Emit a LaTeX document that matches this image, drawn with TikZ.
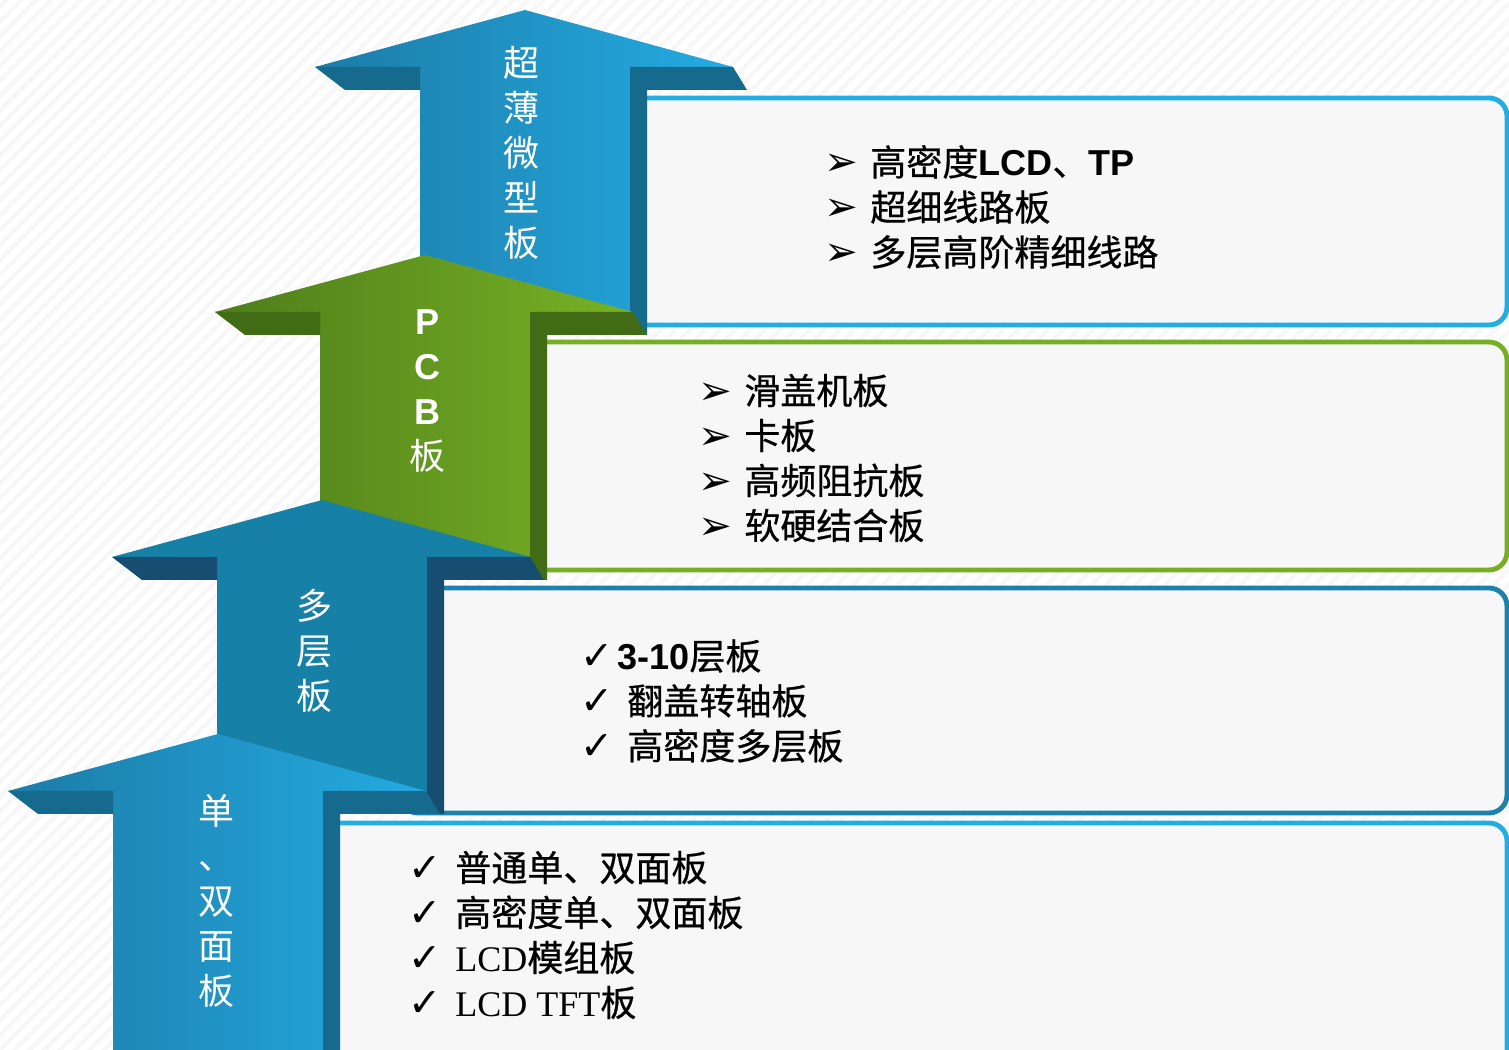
\documentclass[tikz,border=0pt]{standalone}
\usepackage{fontspec}
\setmainfont{Liberation Sans}
\newfontfamily\cjk{Noto Sans CJK SC}
\newfontfamily\cjkheavy[FakeBold=0.6]{Noto Sans CJK SC}
\newfontfamily\dingfont{DejaVu Sans}
\newfontfamily\latinsans{Liberation Sans}
\newfontfamily\latinserif{Liberation Serif}
\usetikzlibrary{patterns.meta}

\definecolor{skyface}{HTML}{24ABE2}
\definecolor{skyshade}{HTML}{1C7CA7}
\definecolor{skydark}{HTML}{156A8D}
\definecolor{leafface}{HTML}{78B223}
\definecolor{leafshade}{HTML}{4E7D1C}
\definecolor{leafdark}{HTML}{416B14}
\definecolor{seaface}{HTML}{1680A7}
\definecolor{seadark}{HTML}{174D71}
\definecolor{paper}{HTML}{F7F7F7}
\definecolor{rimsky}{HTML}{22ADE3}
\definecolor{rimleaf}{HTML}{76AE24}
\definecolor{rimsea}{HTML}{1B82AF}

% tip x, tip y, bottom y, shade left, shade right, dark
\def\stagearrow#1#2#3#4#5#6{%
  \shade[left color=#4, right color=#5] (#1,#2) -- (#1+208,#2+57) -- (#1+105,#2+57) -- (#1+105,#3)
    -- (#1-105,#3) -- (#1-105,#2+57) -- (#1-210,#2+57) -- cycle;
  \fill[#6] (#1-210,#2+57) -- (#1-105,#2+57) -- (#1-105,#2+80) -- (#1-180,#2+80) -- cycle;
  \fill[#6] (#1+105,#2+57) -- (#1+208,#2+57) -- (#1+222,#2+80) -- (#1+122,#2+80) -- (#1+122,#3) -- (#1+105,#3) -- cycle;
}
\def\tip#1{\makebox[0.92cm][l]{\dingfont\scalebox{1.12}{➢}}#1}
\def\chk#1{\makebox[0.74cm][l]{\dingfont\scalebox{1.1}{✓}}#1}

\begin{document}
\begin{tikzpicture}[x=0.02cm, y=-0.02cm,
    card/.style={line width=2.8pt, fill=paper, rounded corners=0.36cm},
    stagelabel/.style={text=white, align=center, inner sep=0pt, font=\cjk\fontsize{20.5}{25.6}\selectfont},
    itemlist/.style={anchor=west, align=left, inner sep=0pt, font=\cjkheavy\fontsize{20.5}{25.6}\selectfont}]
		%%%%% START %%%%%
		\useasboundingbox (0,0) rectangle (1509,1050);
		\clip (0,0) rectangle (1509,1050);
		\fill[white] (0,0) rectangle (1509,1050);
		\fill[pattern={Lines[angle=45,distance=6pt,line width=2.4pt]}, pattern color=black!3] (0,0) rectangle (1509,1050);
		
		% ultra thin
		\draw[card, draw=rimsky] (600,98) rectangle (1507,325);
		\stagearrow{525}{10}{335}{skyshade}{skyface}{skydark}
		\node[stagelabel] (ultra) at (522,153) {超\\薄\\微\\型\\板};
		\node[itemlist] (ultra list) at (824,207) {\tip{高密度{\latinsans\bfseries LCD}、{\latinsans\bfseries TP}}\\
			\tip{超细线路板}\\ \tip{多层高阶精细线路}};
		
		% pcb
		\draw[card, draw=rimleaf] (500,342) rectangle (1507,570);
		\stagearrow{425}{255}{580}{leafshade}{leafface}{leafdark}
		\node[stagelabel] (pcb) at (428,391) {{\latinsans\bfseries P}\\{\latinsans\bfseries C}\\{\latinsans\bfseries B}\\板};
		\node[itemlist] (pcb list) at (698,458) {\tip{滑盖机板}\\ \tip{卡板}\\ \tip{高频阻抗板}\\ \tip{软硬结合板}};
		
		% multilayer
		\draw[card, draw=rimsea] (400,588) rectangle (1507,813);
		\stagearrow{322}{500}{814}{seaface}{seaface}{seadark}
		\node[stagelabel] (multi) at (315,651) {多\\层\\板};
		\node[itemlist] (multi list) at (580,701) {\chk{{\latinsans\bfseries 3-10}层板}\\
			\chk{\hspace{0.2cm}翻盖转轴板}\\ \chk{\hspace{0.2cm}高密度多层板}};
		
		% single / double
		\draw[card, draw=rimsky] (300,823) rectangle (1507,1090);
		\stagearrow{218}{734}{1050}{skyshade}{skyface}{skydark}
		\node[stagelabel] (single) at (217,901) {单\\、\\双\\面\\板};
		\node[itemlist] (single list) at (408,935) {\makebox[0.94cm][l]{\dingfont\scalebox{1.1}{✓}}普通单、双面板\\
			\makebox[0.94cm][l]{\dingfont\scalebox{1.1}{✓}}高密度单、双面板\\
			\makebox[0.94cm][l]{\dingfont\scalebox{1.1}{✓}}{\latinserif LCD}模组板\\
			\makebox[0.94cm][l]{\dingfont\scalebox{1.1}{✓}}{\latinserif LCD TFT}板};
		%%%%% END %%%%%
	\end{tikzpicture}
\end{document}
